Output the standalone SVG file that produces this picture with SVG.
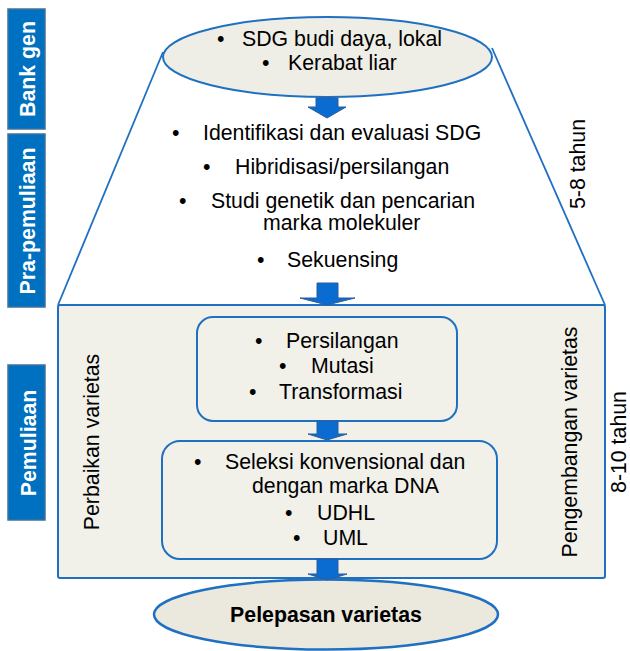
<svg xmlns="http://www.w3.org/2000/svg" width="630" height="651" viewBox="0 0 630 651">
<style>
text{font-family:"Liberation Sans",Arial,sans-serif;font-size:21.3px;fill:#000}
.b{font-weight:bold}
.w{fill:#fff;font-weight:bold}
.tag{fill:#0070c0;stroke:#41719c;stroke-width:1.5}
.ln{fill:none;stroke:#1f70c1;stroke-width:1.8}
.box{fill:#f1f0e9;stroke:#1f70c1;stroke-width:2}
.arr{fill:#0a6cd0;stroke:#2d5d9a;stroke-width:1}
</style>
<rect width="630" height="651" fill="#fff"/>
<g id="tag-bank">
<rect class="tag" x="8" y="9" width="37" height="120"/>
<text class="w" text-anchor="middle" transform="translate(35,69) rotate(-90)">Bank gen</text>
</g>
<g id="tag-pra">
<rect class="tag" x="8" y="134" width="37" height="173"/>
<text class="w" text-anchor="middle" transform="translate(35,221) rotate(-90)">Pra-pemuliaan</text>
</g>
<g id="tag-pem">
<rect class="tag" x="8" y="365" width="37" height="155"/>
<text class="w" text-anchor="middle" transform="translate(36,443) rotate(-90)">Pemuliaan</text>
</g>
<g id="funnel">
<line class="ln" x1="163" y1="52" x2="58" y2="305"/>
<line class="ln" x1="492" y1="48" x2="605" y2="305"/>
</g>
<g id="pemuliaan-box">
<rect class="box" x="58" y="305" width="547" height="273" rx="2"/>
<text text-anchor="middle" transform="translate(99,442) rotate(-90)">Perbaikan varietas</text>
<text text-anchor="middle" transform="translate(577,442) rotate(-90)">Pengembangan varietas</text>
</g>
<g id="bank-gen">
<ellipse cx="327.5" cy="57" rx="164.5" ry="40" fill="#efeee6" stroke="#1f70c1" stroke-width="2"/>
<text x="217" y="46">•</text><text x="242" y="46">SDG budi daya, lokal</text>
<text x="262" y="70">•</text><text x="288" y="70">Kerabat liar</text>
</g>
<g id="pra-pemuliaan">
<text x="172" y="140">•</text><text x="203" y="140">Identifikasi dan evaluasi SDG</text>
<text x="203" y="174">•</text><text x="235" y="174">Hibridisasi/persilangan</text>
<text x="179" y="208">•</text><text x="211" y="208">Studi genetik dan pencarian</text>
<text x="263" y="230">marka molekuler</text>
<text x="257" y="267">•</text><text x="287" y="267">Sekuensing</text>
</g>
<g id="metode">
<rect class="box" x="197" y="317" width="260" height="104" rx="16"/>
<text x="255" y="348">•</text><text x="286" y="348">Persilangan</text>
<text x="279" y="373">•</text><text x="311" y="373">Mutasi</text>
<text x="249" y="399">•</text><text x="279" y="399">Transformasi</text>
</g>
<g id="seleksi">
<rect class="box" x="162" y="441" width="335" height="118" rx="18"/>
<text x="194" y="469">•</text><text x="225" y="469">Seleksi konvensional dan</text>
<text x="252" y="493">dengan marka DNA</text>
<text x="285" y="520">•</text><text x="317" y="520">UDHL</text>
<text x="293" y="545">•</text><text x="323" y="545">UML</text>
</g>
<g id="pelepasan">
<ellipse cx="326" cy="614.5" rx="172" ry="35" fill="#ebe8dd" stroke="#1f70c1" stroke-width="2.5"/>
<text class="b" x="326" y="622" text-anchor="middle">Pelepasan varietas</text>
</g>
<g id="durasi">
<text text-anchor="middle" transform="translate(585,164) rotate(-90)">5-8 tahun</text>
<text text-anchor="middle" transform="translate(626,442) rotate(-90)">8-10 tahun</text>
</g>
<g id="connectors">
<path class="arr" d="M316,98 H338 V107 H346 L327,118 L308,107 H316 Z"/>
<path class="arr" d="M317,283 H338 V298 H355 L327,305 L300,298 H317 Z"/>
<path class="arr" d="M317,421 H338 V434 H347 L327,440 L308,434 H317 Z"/>
<path class="arr" d="M317,559 H338 V574 H347 L327,580 L308,574 H317 Z"/>
</g>
</svg>
